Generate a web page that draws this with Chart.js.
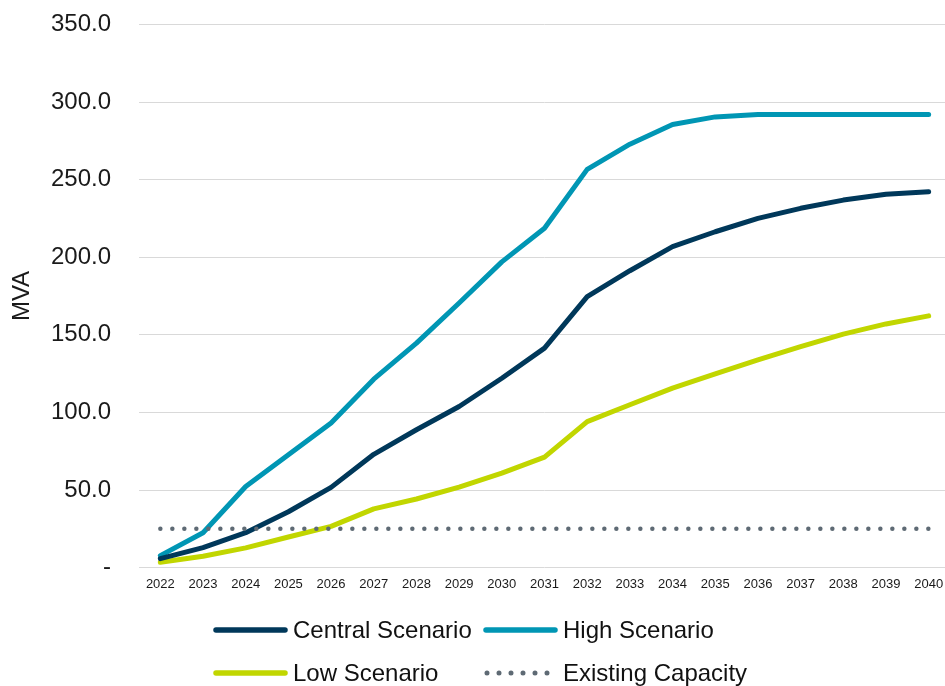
<!DOCTYPE html>
<html>
<head>
<meta charset="utf-8">
<title>MVA scenarios</title>
<script src="https://cdn.jsdelivr.net/npm/chart.js@4.4.1/dist/chart.umd.min.js"></script>
<style>
  html, body { margin: 0; padding: 0; background: #fff; overflow: hidden; }
  #wrap { position: relative; width: 952px; height: 686px; overflow: hidden; }
  #chartBox { position: absolute; left: 0; top: -18px; width: 952px; height: 628px; }
  #legend {
    position: absolute; left: 0; top: 608px; width: 945px; height: 78px;
    font-family: 'Liberation Sans', Arial, sans-serif; font-size: 24px; color: #111;
  }
  .item { position: absolute; display: flex; align-items: center; height: 28px; white-space: nowrap; }
  .item svg { margin-right: 5px; }
</style>
</head>
<body>
<div id="wrap">
  <div id="chartBox"><canvas id="mvaChart"></canvas></div>
  <div id="legend"></div>
</div>
<script>
const years = ['2022', '2023', '2024', '2025', '2026', '2027', '2028', '2029', '2030', '2031',
  '2032', '2033', '2034', '2035', '2036', '2037', '2038', '2039', '2040'];

const centralScenario = [5.8, 12.9, 22.5, 36.0, 51.7, 73.0, 88.8, 103.8, 122.0, 141.4,
  174.6, 191.3, 206.8, 216.4, 225.0, 231.5, 236.8, 240.5, 242.2];
const highScenario = [7.7, 22.5, 52.3, 72.7, 93.1, 121.4, 144.6, 170.5, 197.0, 218.6,
  256.6, 272.8, 285.5, 290.4, 292.0, 292.0, 292.0, 292.0, 292.0];
const lowScenario = [3.4, 7.3, 12.7, 19.7, 26.6, 37.8, 44.2, 51.9, 60.9, 71.2,
  94.1, 104.9, 115.6, 124.8, 133.8, 142.4, 150.4, 157.0, 162.2];
const existingCapacity = [25, 25, 25, 25, 25, 25, 25, 25, 25, 25,
  25, 25, 25, 25, 25, 25, 25, 25, 25];

const yTicks = [0, 50, 100, 150, 200, 250, 300, 350];
const seriesNames = ['Central Scenario', 'High Scenario', 'Low Scenario', 'Existing Capacity'];

const FONT = "'Liberation Sans', Arial, sans-serif";
Chart.defaults.font.family = FONT;
Chart.defaults.color = '#1a1a1a';

function lineSet(label, data, color, extra) {
  return Object.assign({
    label: label,
    data: data,
    borderColor: color,
    backgroundColor: color,
    borderWidth: 5,
    borderCapStyle: 'round',
    borderJoinStyle: 'round',
    pointRadius: 0,
    pointHoverRadius: 0,
    tension: 0,
    fill: false
  }, extra || {});
}

const datasets = [
  lineSet(seriesNames[0], centralScenario, '#00385A', { order: 1 }),
  lineSet(seriesNames[1], highScenario, '#0096B4', { order: 2 }),
  lineSet(seriesNames[2], lowScenario, '#C1D600', { order: 3 }),
  lineSet(seriesNames[3], existingCapacity, '#5E6A74', { order: 0, borderDash: [0, 12], borderWidth: 4.5 })
];

const ctx = document.getElementById('mvaChart').getContext('2d');
new Chart(ctx, {
  type: 'line',
  data: { labels: years, datasets: datasets },
  options: {
    responsive: true,
    maintainAspectRatio: false,
    animation: false,
    layout: { padding: { top: 24, right: 2, bottom: 7, left: 0 } },
    plugins: {
      legend: { display: false },
      tooltip: { enabled: false }
    },
    scales: {
      x: {
        offset: true,
        grid: { display: false },
        border: { display: false },
        ticks: { font: { size: 13 }, padding: 1, maxRotation: 0, autoSkip: false, color: '#1a1a1a' },
        afterFit: (scale) => { scale.height = 30; }
      },
      y: {
        min: 0,
        max: 350,
        afterBuildTicks: (scale) => { scale.ticks = yTicks.map((v) => ({ value: v })); },
        ticks: {
          font: { size: 24 },
          padding: 28,
          color: '#1a1a1a',
          callback: (value) => (value === 0 ? '-' : value.toFixed(1))
        },
        grid: { color: '#D9D9D9', lineWidth: 1, drawTicks: false },
        border: { display: false },
        title: {
          display: true,
          text: 'MVA',
          font: { size: 24 },
          color: '#1a1a1a',
          padding: { top: 8, bottom: 0 }
        },
        afterFit: (scale) => { scale.width = 139; }
      }
    }
  }
});

// legend built from the datasets, laid out in two columns like the original
const legendEl = document.getElementById('legend');
const legendSpots = [[213, 8], [483, 8], [213, 51], [483, 51]];
datasets.forEach((ds, i) => {
  const item = document.createElement('div');
  item.className = 'item';
  item.style.left = legendSpots[i][0] + 'px';
  item.style.top = legendSpots[i][1] + 'px';
  const dotted = ds.borderDash && ds.borderDash.length;
  const svg = dotted
    ? `<svg width="75" height="10"><line x1="4" y1="5" x2="65" y2="5" stroke="${ds.borderColor}" stroke-width="5" stroke-linecap="round" stroke-dasharray="0 12"/></svg>`
    : `<svg width="75" height="10"><line x1="3" y1="5" x2="72" y2="5" stroke="${ds.borderColor}" stroke-width="5.5" stroke-linecap="round"/></svg>`;
  item.innerHTML = svg + '<span>' + ds.label + '</span>';
  legendEl.appendChild(item);
});
</script>
</body>
</html>
